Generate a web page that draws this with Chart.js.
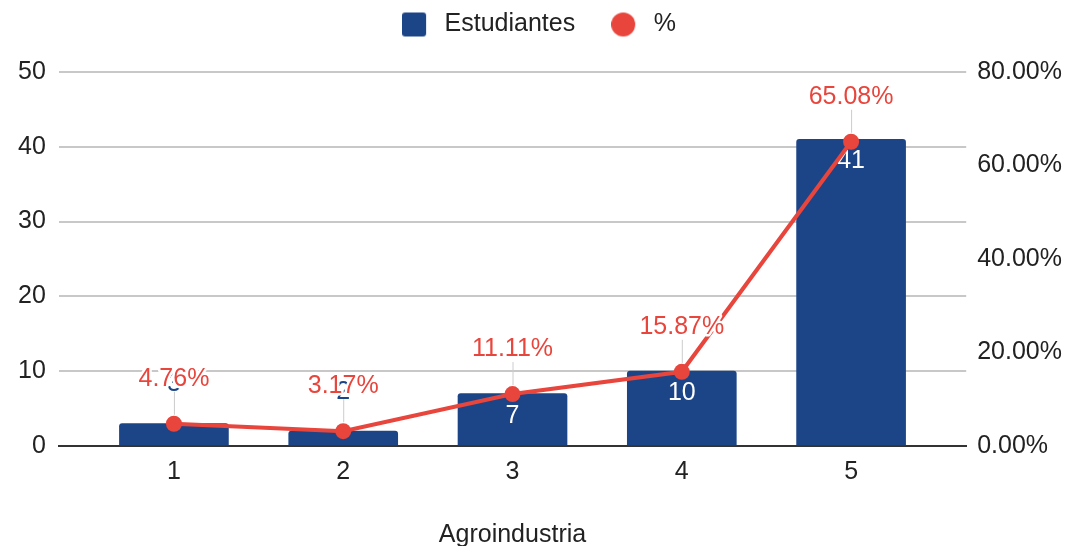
<!DOCTYPE html>
<html>
<head>
<meta charset="utf-8">
<script src="https://cdn.jsdelivr.net/npm/chart.js@4/dist/chart.umd.min.js"></script>
<style>
  html, body { margin: 0; padding: 0; background: #fff; }
  #wrap { width: 1065px; height: 546px; }
</style>
</head>
<body>
<div id="wrap"><canvas id="c" width="1065" height="546"></canvas></div>
<script>
var categories = [1, 2, 3, 4, 5];
var estudiantes = [3, 2, 7, 10, 41];
var porcentaje = [4.76, 3.17, 11.11, 15.87, 65.08];
var leftTicks = [0, 10, 20, 30, 40, 50];
var rightTicks = [0, 20, 40, 60, 80];

var BLUE = '#1c4587';
var RED = '#e8453c';
var FONT = '"Liberation Sans", Arial, sans-serif';
var TEXT = '#222';

function pairs(vals) {
    var out = [];
    for (var i = 0; i < categories.length; i++) {
        out.push({ x: categories[i], y: vals[i] });
    }
    return out;
}

// legend markers: square and dot, left aligned in a 30px wide box
function marker(kind, color) {
    var c = document.createElement('canvas');
    c.width = 30;
    c.height = 26;
    var g = c.getContext('2d');
    g.fillStyle = color;
    g.beginPath();
    if (kind == 'rect') {
        g.roundRect(0, 1, 24, 24, 3);
    } else {
        g.arc(12, 13, 12, 0, Math.PI * 2);
    }
    g.fill();
    return c;
}
var squareMark = marker('rect', BLUE);
var dotMark = marker('circle', RED);

var labelPlugin = {
    id: 'labels',
    afterDatasetDraw: function (chart, args) {
        if (args.index !== 0) return;
        var ctx = chart.ctx;
        var meta = chart.getDatasetMeta(0);
        ctx.save();
        ctx.font = '25px ' + FONT;
        ctx.textAlign = 'center';
        ctx.textBaseline = 'middle';
        for (var i = 0; i < meta.data.length; i++) {
            var bar = meta.data[i];
            var h = bar.base - bar.y;
            if (h > 40) {
                ctx.fillStyle = '#fff';
                ctx.fillText(estudiantes[i], bar.x, bar.y + 22);
            } else {
                ctx.fillStyle = BLUE;
                ctx.fillText(estudiantes[i], bar.x, bar.y - 39);
            }
        }
        ctx.restore();
    },
    afterDatasetsDraw: function (chart) {
        var ctx = chart.ctx;
        var meta = chart.getDatasetMeta(1);
        ctx.save();
        ctx.font = '25px ' + FONT;
        ctx.textAlign = 'center';
        ctx.textBaseline = 'middle';
        for (var i = 0; i < meta.data.length; i++) {
            var p = meta.data[i];
            ctx.strokeStyle = '#cccccc';
            ctx.lineWidth = 1;
            ctx.beginPath();
            ctx.moveTo(p.x + 0.5, p.y - 9);
            ctx.lineTo(p.x + 0.5, p.y - 32);
            ctx.stroke();
            var txt = porcentaje[i].toFixed(2) + '%';
            ctx.lineJoin = 'round';
            ctx.strokeStyle = '#fff';
            ctx.lineWidth = 5;
            ctx.strokeText(txt, p.x, p.y - 45);
            ctx.fillStyle = RED;
            ctx.fillText(txt, p.x, p.y - 45);
        }
        ctx.restore();
    }
};

var legendSpace = {
    id: 'legendSpace',
    beforeInit: function (chart) {
        var fit = chart.legend.fit;
        chart.legend.fit = function () {
            fit.bind(chart.legend)();
            this.height = 96;
        };
    }
};

new Chart(document.getElementById('c'), {
    type: 'bar',
    data: {
        datasets: [{
            type: 'bar',
            label: 'Estudiantes',
            data: pairs(estudiantes),
            backgroundColor: BLUE,
            borderRadius: 3,
            borderSkipped: 'bottom',
            barThickness: 109,
            yAxisID: 'y',
            pointStyle: 'rect',
            order: 1
        }, {
            type: 'line',
            label: '%',
            data: pairs(porcentaje),
            borderColor: RED,
            backgroundColor: RED,
            borderWidth: 4,
            pointRadius: 8,
            pointBackgroundColor: RED,
            pointBorderWidth: 0,
            pointStyle: 'circle',
            yAxisID: 'y1',
            order: 0
        }]
    },
    options: {
        responsive: false,
        animation: false,
        layout: { padding: { left: 5, right: -8, top: -24, bottom: 0 } },
        plugins: {
            tooltip: { enabled: false },
            legend: {
                position: 'top',
                labels: {
                    usePointStyle: true,
                    pointStyleWidth: 30,
                    boxWidth: 30,
                    boxHeight: 25,
                    padding: 36,
                    color: TEXT,
                    font: { family: FONT, size: 25 },
                    sort: function (a, b) { return a.datasetIndex - b.datasetIndex; },
                    generateLabels: function (chart) {
                        var items = Chart.defaults.plugins.legend.labels.generateLabels(chart);
                        items.forEach(function (it) {
                            it.pointStyle = it.datasetIndex === 1 ? dotMark : squareMark;
                        });
                        return items;
                    }
                }
            }
        },
        scales: {
            x: {
                type: 'linear',
                offset: false,
                min: 0.32,
                max: 5.68,
                afterBuildTicks: function (axis) {
                    axis.ticks = categories.map(function (v) { return { value: v }; });
                },
                grid: { display: false, drawTicks: false },
                border: { display: true, color: '#333', width: 2 },
                ticks: {
                    color: TEXT,
                    padding: 11,
                    font: { family: FONT, size: 25 },
                    callback: function (v) { return String(v); }
                },
                title: {
                    display: true,
                    text: 'Agroindustria',
                    color: TEXT,
                    padding: { top: 22, bottom: -4 },
                    font: { family: FONT, size: 25 }
                }
            },
            y: {
                position: 'left',
                min: 0,
                max: 50,
                afterBuildTicks: function (axis) {
                    axis.ticks = leftTicks.map(function (v) { return { value: v }; });
                },
                grid: { color: '#c8c8c8', lineWidth: 2, drawTicks: false },
                border: { display: false },
                ticks: {
                    color: TEXT,
                    padding: 13,
                    font: { family: FONT, size: 25 }
                }
            },
            y1: {
                position: 'right',
                min: 0,
                max: 80,
                afterBuildTicks: function (axis) {
                    axis.ticks = rightTicks.map(function (v) { return { value: v }; });
                },
                grid: { display: false, drawTicks: false },
                border: { display: false },
                ticks: {
                    color: TEXT,
                    padding: 11,
                    font: { family: FONT, size: 25 },
                    callback: function (v) { return v.toFixed(2) + '%'; }
                }
            }
        }
    },
    plugins: [labelPlugin, legendSpace]
});
</script>
</body>
</html>
